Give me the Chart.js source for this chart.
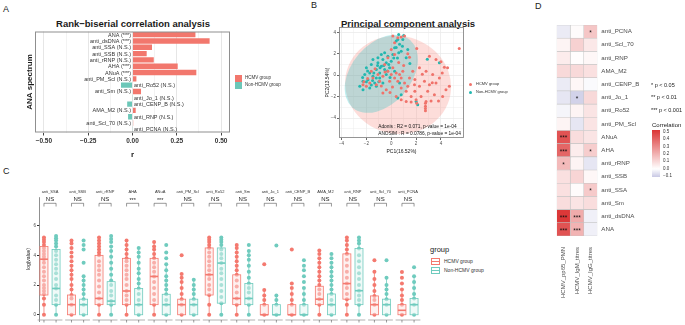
<!DOCTYPE html>
<html>
<head>
<meta charset="utf-8">
<script src="https://cdn.jsdelivr.net/npm/chart.js@4.4.1/dist/chart.umd.min.js"></script>
<style>
body { margin: 0; background: #fff; width: 685px; height: 325px; position: relative; overflow: hidden; font-family: "Liberation Sans", Arial, sans-serif; }
canvas { position: absolute; }
.t { position: absolute; white-space: nowrap; color: #1a1a1a; line-height: 1; }
.sq { position: absolute; }
</style>
</head>
<body>
<div class="t" style="left:3px;top:5px;font-size:9px">A</div>
<div class="t" style="left:311px;top:1px;font-size:9px">B</div>
<div class="t" style="left:3px;top:167px;font-size:9px">C</div>
<div class="t" style="left:535px;top:2px;font-size:9px">D</div>

<div class="t" style="left:133px;top:19px;font-size:9.5px;font-weight:bold;transform:translateX(-50%)">Rank−biserial correlation analysis</div>
<div class="t" style="left:341px;top:19px;font-size:9.5px;font-weight:bold">Principal component analysis</div>

<canvas id="rb" width="232" height="160" style="left:0;top:0"></canvas>
<canvas id="pca" width="150" height="135" style="left:318px;top:20px"></canvas>
<canvas id="box" width="428" height="147" style="left:0;top:178px"></canvas>
<canvas id="heat" width="112" height="315" style="left:540px;top:10px"></canvas>

<!-- legend A -->
<div class="sq" style="left:235px;top:75px;width:7px;height:6.5px;background:#F2776D"></div>
<div class="sq" style="left:235px;top:82px;width:7px;height:6.5px;background:#6CC7B8"></div>
<div class="t" style="left:245px;top:76px;font-size:4.5px;color:#333">HCMV group</div>
<div class="t" style="left:245px;top:83px;font-size:4.5px;color:#333">Non-HCMV group</div>

<!-- legend B -->
<div class="sq" style="left:469px;top:82.5px;width:3px;height:3px;border-radius:50%;background:#F0736B"></div>
<div class="sq" style="left:469px;top:90.5px;width:3px;height:3px;border-radius:50%;background:#22B8B0"></div>
<div class="t" style="left:476px;top:82px;font-size:4px;color:#333">HCMV group</div>
<div class="t" style="left:476px;top:90px;font-size:4px;color:#333">Non-HCMV group</div>

<!-- legend C -->
<div class="t" style="left:430px;top:246px;font-size:7.5px">group</div>
<div class="sq" style="left:431px;top:258px;width:7px;height:5px;border:0.8px solid #F4796F"></div>
<div class="sq" style="left:431px;top:260.5px;width:8.6px;height:1px;background:#F4796F"></div>
<div class="sq" style="left:431px;top:267px;width:7px;height:5px;border:0.8px solid #6FCBBE"></div>
<div class="sq" style="left:431px;top:269.5px;width:8.6px;height:1px;background:#6FCBBE"></div>
<div class="t" style="left:444px;top:258.5px;font-size:5px;color:#333">HCMV group</div>
<div class="t" style="left:444px;top:267.5px;font-size:5px;color:#333">Non-HCMV group</div>

<!-- legend D -->
<div class="t" style="left:651px;top:83px;font-size:5.5px">* p &lt; 0.05</div>
<div class="t" style="left:651px;top:95px;font-size:5.5px">** p &lt; 0.01</div>
<div class="t" style="left:651px;top:108px;font-size:5.5px">*** p &lt; 0.001</div>
<div class="t" style="left:652px;top:122px;font-size:6px">Correlation</div>
<div id="cbar" class="sq" style="left:652px;top:130px;width:8px;height:47px"></div>
<div id="cbarTicks"></div>

<script>
Chart.defaults.font.family = "'Liberation Sans', Arial, sans-serif";
Chart.defaults.color = "#4d4d4d";

const RED = "#F2776D";
const TEAL = "#6CC7B8";

// ---- A: rank-biserial correlation
const rbCategories = ["ANA", "anti_dsDNA", "anti_SSA", "anti_SSB", "anti_rRNP", "AHA", "ANuA", "anti_PM_Scl",
    "anti_Ro52", "anti_Sm", "anti_Jo_1", "anti_CENP_B", "AMA_M2", "anti_RNP", "anti_Scl_70", "anti_PCNA"];
const rbValues = [0.355, 0.435, 0.11, 0.08, 0.12, 0.255, 0.36, 0.022,
    -0.065, 0.048, -0.002, -0.03, 0.018, -0.025, 0.004, -0.002];
const rbSig = ["***", "***", "N.S.", "N.S.", "N.S.", "***", "***", "N.S.",
    "N.S.", "N.S.", "N.S.", "N.S.", "N.S.", "N.S.", "N.S.", "N.S."];
const rbMajorTicks = [-0.5, -0.25, 0, 0.25, 0.5];
const rbMinorTicks = [-0.375, -0.125, 0.125, 0.375];

// ---- B: PCA
const hcmvPC1 = [5.47, 4.0, 4.27, 4.53, 3.6, 3.07, 2.05, 1.47, 1.33, 1.73, 2.27, 2.8, 3.33, 3.87, 3.6, 3.07, 2.67, 2.27, 1.87, 1.47,
    1.07, 0.8, 1.2, 1.6, 2.0, 2.4, 2.8, 2.75, 2.93, 3.47, 4.13, 4.4, 4.67, 0.13, 0.4, 0.67, 0.27, -0.13, 0.53, 0.8,
    0, -0.27, 0.93, -1.47, -1.73, -2.0, -2.27, -1.2, -0.93, -0.67, -1.07, -1.6, -0.53, -0.27, 0, 0.27, 0.13, 0.8, 1.07, 0.53,
    0.27, -0.4, -0.67, 0.4, 0.8, 1.2, 1.6, 2.05, 1.33, 2.75, 2.75, 2.75, 3.2, 3.8, 1.9, -1.9, -2.2, -1.3, -0.8, 0.1,
    1.0, 1.9, 2.5, 3.3, 4.1, -0.5, 0.6, -0.1];
const hcmvPC2 = [2.5, 1.25, 0.75, 0.69, 1.47, 1.78, 2.5, 1.69, 2.0, 0.38, 0.69, 0.38, 0.06, -0.25, -0.72, -0.88, -0.56, -1.03, -0.88, -0.25,
    -0.72, -1.19, -1.5, -1.97, -2.28, -1.97, -2.44, -2.9, -1.5, -1.81, -1.97, -1.34, -1.03, 0.69, 0.22, 0.06, -0.25, -0.56, -0.56, -0.25,
    0.06, 0.38, 0.38, -0.25, -0.72, -1.03, -0.88, -0.88, -0.56, -0.09, 0.06, 0.38, 1.0, 1.63, 2.4, 3.03, 3.66, 3.56, 3.66, 3.5,
    1.94, -1.34, -1.66, -1.97, -2.28, -2.44, -2.5, -2.6, -1.03, -2.6, -3.1, -3.3, -2.4, -2.4, -1.5, -0.3, -0.6, 0.6, -1.0, -1.1,
    0.9, -0.4, 0.1, -0.7, 0.2, 0.3, 1.2, -1.6];
const nonPC1 = [-2.53, -2.27, -2.13, -2.0, -1.87, -1.73, -1.6, -1.47, -1.33, -1.2, -1.07, -0.93, -0.8, -0.67, -0.53, -0.4, -0.27, -0.13, 0, 0.13,
    0.27, 0.4, 0.53, 0.67, 0.8, 0.93, 1.2, 1.33, 0.67, 0.8, 0.53, 2.0, 2.13, 3.87, -1.2, -1.73, -2.27, -0.93, -0.67, -0.4,
    -1.47, -1.07, -0.8, -0.53, -1.2, -2.0, -1.6, 0.27, -1.9, -1.4, -0.9, -0.2, 0.5, 0.9, 0.6, -1.0, -0.6, -2.3, -1.1, -0.3,
    0.2, 0.4, 1.0, 0.6, -1.5, -0.1, 1.5, 2.9];
const nonPC2 = [-1.03, -0.56, 0.06, 0.69, -0.41, 0.22, 1.0, -0.09, -0.72, 0.53, 1.16, 0.22, 0.84, 1.47, 0.53, 1.16, 1.78, 0.69, 1.31, 1.94,
    2.56, 3.19, 3.34, 2.88, 2.25, 3.34, 1.63, 2.4, -0.72, -1.81, -2.13, -2.44, -2.75, 1.16, -1.03, -1.19, -1.34, -0.25, -0.72, 0.06,
    1.47, 1.63, 1.94, 2.09, -0.25, -0.6, -0.9, 0.38, 0.4, 0.2, 0.7, 1.0, 1.6, 2.7, 2.1, -0.6, 0.9, -0.2, 0.9, 0.4,
    1.6, 2.6, 3.7, 3.8, -0.5, -0.2, 1.1, 1.5];
// ellipse: centre x, centre y, first semi-axis (dx, dy), second semi-axis (dx, dy)
const hcmvEllipse = [0.55, -0.9, 4.25, -0.5, 0.3, 4.55];
const nonEllipse = [-0.8, 0.13, 2.33, 3.13, 1.8, -1.85];
const pcaNotes = ["Adonis : R2 = 0.071, p-value = 1e-04", "ANOSIM : R = 0.0786, p-value = 1e-04"];
const pcaMajorTicks = [-4, -2, 0, 2, 4];
const pcaXMinor = [-3, -1, 1, 3, 5];
const pcaYMinor = [-5, -3, -1, 1, 3];

// ---- C: box plots, stats = [lower whisker, q1, median, q3, upper whisker]
const boxFacets = ["anti_SSA", "anti_SSB", "anti_rRNP", "AHA", "ANuA", "anti_PM_Scl", "anti_Ro52",
    "anti_Sm", "anti_Jo_1", "anti_CENP_B", "AMA_M2", "anti_RNP", "anti_Scl_70", "anti_PCNA"];
const boxSig = ["NS", "NS", "NS", "***", "***", "NS", "NS", "NS", "NS", "NS", "NS", "NS", "NS", "NS"];
const hcmvStats = [[0, 1.33, 3.74, 4.6, 5.2], [0, 0, 0.68, 1.33, 3.3], [0, 0.68, 1.1, 4.0, 5.2], [0, 0.68, 1.6, 3.8, 5.0],
    [0, 0.68, 2.58, 3.8, 4.9], [0, 0, 0.68, 1.05, 2.6], [0, 1.33, 2.7, 4.5, 5.2], [0, 0.68, 1.1, 2.69, 4.7],
    [0, 0, 0, 0.68, 1.66], [0, 0, 0, 0.68, 1.66], [0, 0.68, 1.05, 1.92, 3.8], [0, 1.05, 2.1, 4.1, 5.2],
    [0, 0, 0.68, 1.27, 2.9], [0, 0, 0.3, 0.68, 1.7]];
const nonStats = [[0, 0.68, 1.77, 4.4, 5.3], [0, 0, 0.68, 1.05, 2.6], [0, 0.68, 0.92, 2.23, 4.5], [0, 0, 0.68, 1.77, 4.5],
    [0, 0, 0.68, 1.38, 3.4], [0, 0, 0.68, 1.05, 2.36], [0, 0.78, 3.48, 4.5, 5.2], [0, 0.68, 1.1, 2.1, 4.2],
    [0, 0, 0, 0.68, 1.3], [0, 0, 0, 0.68, 1.66], [0, 0, 0.68, 1.4, 3.4], [0, 0.68, 1.62, 4.46, 5.2],
    [0, 0, 0.68, 1.05, 2.5], [0, 0, 0.68, 1.1, 2.5]];
const hcmvDots = [
    [0, 0.68, 1.1, 1.4, 1.6, 1.8, 2.0, 2.3, 2.6, 2.9, 3.2, 3.5, 3.74, 3.9, 4.1, 4.3, 4.5, 4.7, 4.9, 5.05, 5.2],
    [0, 0.68, 1.1, 1.33, 1.7, 2.0, 2.4, 2.7, 3.0, 3.3, 3.6, 3.9, 4.2, 4.5, 4.8, 5.0],
    [0, 0.68, 1.1, 1.5, 1.9, 2.3, 2.7, 3.0, 3.3, 3.6, 4.0, 4.2, 4.4, 4.6, 4.8, 5.0, 5.2],
    [0, 0.68, 1.0, 1.3, 1.6, 2.0, 2.4, 2.7, 3.0, 3.3, 3.6, 3.8, 4.1, 4.4, 4.7, 5.0],
    [0, 0.68, 1.0, 1.4, 1.8, 2.2, 2.58, 2.9, 3.2, 3.5, 3.8, 4.1, 4.4, 4.6, 4.9],
    [0, 0.68, 1.05, 1.4, 1.8, 2.2, 2.5, 2.75, 4.0],
    [0, 0.68, 1.33, 1.7, 2.0, 2.4, 2.7, 3.0, 3.3, 3.6, 3.9, 4.2, 4.5, 4.7, 4.9, 5.05, 5.2],
    [0, 0.68, 1.1, 1.5, 1.9, 2.3, 2.69, 3.0, 3.3, 3.6, 3.9, 4.2, 4.5, 4.7],
    [0, 0.68, 1.0, 1.3, 1.66, 3.4],
    [0, 0.68, 1.0, 1.4, 1.8, 2.1, 4.4],
    [0, 0.68, 1.05, 1.4, 1.7, 2.0, 2.3, 2.6, 2.9, 3.2, 3.5, 3.8, 4.1, 4.33],
    [0, 0.68, 1.05, 1.4, 1.8, 2.1, 2.5, 2.9, 3.3, 3.7, 4.1, 4.4, 4.7, 5.0, 5.2],
    [0, 0.68, 1.0, 1.27, 1.6, 2.0, 2.4, 2.9, 3.67],
    [0, 0.68, 1.0, 1.3, 1.7, 2.1, 2.5, 2.88]];
const nonDots = [
    [0, 0.68, 1.0, 1.3, 1.77, 2.0, 2.4, 2.8, 3.1, 3.4, 3.7, 4.0, 4.3, 4.6, 4.8, 5.0, 5.15, 5.3],
    [0, 0.68, 1.05, 1.4, 1.7, 2.0, 2.3, 2.6, 3.5, 4.4, 4.7, 5.0],
    [0, 0.68, 0.92, 1.3, 1.6, 2.0, 2.3, 2.7, 3.1, 3.5, 3.9, 4.3, 4.6, 4.9, 5.1, 5.3],
    [0, 0.68, 1.0, 1.4, 1.77, 2.1, 2.4, 2.8, 3.1, 3.5, 3.9, 4.2, 4.5],
    [0, 0.68, 1.0, 1.38, 1.7, 2.0, 2.3, 2.6, 3.0, 3.4, 3.8, 4.2, 4.7],
    [0, 0.68, 1.05, 1.4, 1.7, 2.0, 2.36],
    [0, 0.78, 1.2, 1.6, 2.0, 2.4, 2.8, 3.1, 3.48, 3.8, 4.1, 4.4, 4.7, 4.9, 5.05, 5.2],
    [0, 0.68, 1.1, 1.5, 1.8, 2.1, 2.5, 2.9, 3.3, 3.7, 4.0, 4.3, 4.7],
    [0, 0.68, 1.0, 1.3, 4.67],
    [0, 0.68, 1.0, 1.4, 1.8, 2.2, 2.6, 3.0, 3.3, 3.67],
    [0, 0.68, 1.0, 1.4, 1.7, 2.0, 2.3, 2.6, 2.9, 3.2, 3.5, 3.8, 4.1],
    [0, 0.68, 1.0, 1.3, 1.62, 2.0, 2.4, 2.8, 3.2, 3.6, 4.0, 4.46, 4.8, 5.0, 5.2],
    [0, 0.68, 1.05, 1.4, 1.7, 2.0, 2.5, 3.67],
    [0, 0.68, 1.1, 1.4, 1.8, 2.2, 2.6, 3.2]];
const boxYTicks = [0, 2, 4, 6];

// ---- D: correlation heatmap
const hmRows = ["anti_PCNA", "anti_Scl_70", "anti_RNP", "AMA_M2", "anti_CENP_B", "anti_Jo_1", "anti_Ro52", "anti_PM_Scl",
    "ANuA", "AHA", "anti_rRNP", "anti_SSB", "anti_SSA", "anti_Sm", "anti_dsDNA", "ANA"];
const hmCols = ["HCMV_pp65_PMN", "HCMV_IgM_titres", "HCMV_IgG_titres"];
const corPp65 = [-0.04, 0.03, 0.05, 0.1, -0.04, -0.05, -0.02, 0.03, 0.45, 0.4, 0.18, 0.08, 0.08, 0.09, 0.52, 0.45];
const corIgM = [0.01, 0.12, 0.005, 0.1, 0.02, -0.09, 0.03, -0.05, 0.09, 0.05, 0.03, 0.11, 0.01, 0.07, 0.22, 0.2];
const corIgG = [0.15, 0.06, 0.02, 0.08, -0.01, 0.1, 0.07, 0.07, 0.07, 0.13, -0.05, 0.02, 0.14, 0.09, -0.03, -0.03];
const sigPp65 = ["", "", "", "", "", "", "", "", "***", "***", "*", "", "", "", "***", "***"];
const sigIgM = ["", "", "", "", "", "*", "", "", "", "", "", "", "", "", "***", "***"];
const sigIgG = ["*", "", "", "", "", "", "", "", "", "*", "", "", "*", "", "", ""];
const corrTicks = [0.5, 0.4, 0.3, 0.2, 0.1, 0.0, -0.1];

// ---------- helpers
const minus = (s) => String(s).replace("-", "−");

const panelBorder = {
    id: "panelBorder",
    afterDraw(chart, args, opts) {
        const a = chart.chartArea;
        const ctx = chart.ctx;
        ctx.save();
        ctx.strokeStyle = opts.color;
        ctx.lineWidth = opts.width;
        ctx.strokeRect(a.left + 0.5, a.top + 0.5, a.right - a.left - 1, a.bottom - a.top - 1);
        ctx.restore();
    },
};

function corrColor(v) {
    if (v >= 0) {
        const t = Math.min(v / 0.55, 1);
        return `rgb(${Math.round(255 - 37 * t)},${Math.round(255 - 210 * t)},${Math.round(255 - 210 * t)})`;
    }
    const t = Math.min(-v / 0.11, 1);
    return `rgb(${Math.round(255 - 55 * t)},${Math.round(255 - 55 * t)},${Math.round(255 - 27 * t)})`;
}

// ---------- A
const barLabels = {
    id: "barLabels",
    afterDatasetsDraw(chart) {
        const ctx = chart.ctx;
        const x0 = chart.scales.x.getPixelForValue(0);
        ctx.save();
        ctx.font = "5.5px 'Liberation Sans', Arial";
        ctx.fillStyle = "#333";
        ctx.textBaseline = "middle";
        chart.getDatasetMeta(0).data.forEach((bar, i) => {
            const txt = `${rbCategories[i]} (${rbSig[i]})`;
            if (rbValues[i] >= 0) {
                ctx.textAlign = "right";
                ctx.fillText(txt, x0 - 1.5, bar.y + 0.5);
            } else {
                ctx.textAlign = "left";
                ctx.fillText(txt, x0 + 1.5, bar.y + 0.5);
            }
        });
        ctx.restore();
    },
};

new Chart(document.getElementById("rb"), {
    type: "bar",
    data: {
        labels: rbCategories,
        datasets: [{
            data: rbValues,
            backgroundColor: rbValues.map((v) => (v >= 0 ? RED : TEAL)),
            barPercentage: 0.86,
            categoryPercentage: 1,
        }],
    },
    options: {
        indexAxis: "y",
        responsive: false,
        animation: false,
        layout: { padding: { left: 24, top: 31.5, right: 2, bottom: 0 } },
        plugins: {
            legend: { display: false },
            tooltip: { enabled: false },
            panelBorder: { color: "#8f8f8f", width: 1 },
        },
        scales: {
            x: {
                type: "linear",
                min: -0.55,
                max: 0.55,
                afterBuildTicks: (s) => {
                    s.ticks = [...rbMajorTicks, ...rbMinorTicks].sort((a, b) => a - b).map((v) => ({ value: v }));
                },
                afterFit: (s) => { s.height = 27.5; },
                ticks: {
                    callback: (v) => (rbMajorTicks.includes(v) ? minus(v.toFixed(2)) : ""),
                    font: { size: 6.5, weight: "bold" },
                    color: "#333",
                    padding: 2,
                    maxRotation: 0,
                },
                grid: {
                    color: (c) => (c.tick && rbMajorTicks.includes(c.tick.value) ? "#E6E6E6" : "#F3F3F3"),
                    tickColor: (c) => (c.tick && rbMajorTicks.includes(c.tick.value) ? "#444" : "rgba(0,0,0,0)"),
                    tickLength: 3,
                },
                border: { display: false },
                title: { display: true, text: "r", font: { size: 8, weight: "bold" }, color: "#1a1a1a", padding: { top: 1, bottom: 0 } },
            },
            y: {
                ticks: { display: false },
                grid: { display: false },
                border: { display: false },
                afterFit: (s) => { s.width = 11; },
                title: { display: true, text: "ANA spectrum", font: { size: 8, weight: "bold" }, color: "#1a1a1a", padding: 1 },
            },
        },
    },
    plugins: [barLabels, panelBorder],
});

// ---------- B
const ellipsePlugin = {
    id: "ellipses",
    beforeDatasetsDraw(chart, args, opts) {
        const { ctx, chartArea: a, scales: { x, y } } = chart;
        ctx.save();
        ctx.beginPath();
        ctx.rect(a.left, a.top, a.right - a.left, a.bottom - a.top);
        ctx.clip();
        opts.items.forEach(([e, fill]) => {
            const [cx, cy, ax, ay, bx, by] = e;
            const px = x.getPixelForValue(cx), py = y.getPixelForValue(cy);
            const ux = x.getPixelForValue(cx + ax) - px, uy = y.getPixelForValue(cy + ay) - py;
            const vx = x.getPixelForValue(cx + bx) - px, vy = y.getPixelForValue(cy + by) - py;
            ctx.save();
            ctx.transform(ux, uy, vx, vy, px, py);
            ctx.beginPath();
            ctx.arc(0, 0, 1, 0, Math.PI * 2);
            ctx.restore();
            ctx.fillStyle = fill;
            ctx.fill();
        });
        ctx.restore();
    },
    afterDatasetsDraw(chart, args, opts) {
        const { ctx, scales: { x, y } } = chart;
        ctx.save();
        ctx.font = "4.8px 'Liberation Sans', Arial";
        ctx.fillStyle = "#111";
        ctx.textBaseline = "middle";
        opts.notes.forEach(([txt, nx, ny]) => ctx.fillText(txt, x.getPixelForValue(nx), y.getPixelForValue(ny)));
        ctx.restore();
    },
};

const pcaAxis = (minor, extra) => Object.assign({
    type: "linear",
    afterBuildTicks: (s) => {
        s.ticks = [...pcaMajorTicks, ...minor].sort((a, b) => a - b).map((v) => ({ value: v }));
    },
    ticks: {
        callback: (v) => (pcaMajorTicks.includes(v) ? minus(v) : ""),
        font: { size: 4.5 },
        color: "#4d4d4d",
        padding: 1,
        maxRotation: 0,
    },
    grid: {
        color: "#EBEBEB",
        lineWidth: (c) => (c.tick && pcaMajorTicks.includes(c.tick.value) ? 0.8 : 0.45),
        tickColor: (c) => (c.tick && pcaMajorTicks.includes(c.tick.value) ? "#444" : "rgba(0,0,0,0)"),
        tickLength: 2,
    },
    border: { display: false },
}, extra);

new Chart(document.getElementById("pca"), {
    type: "scatter",
    data: {
        datasets: [
            {
                label: "HCMV group",
                data: hcmvPC1.map((v, i) => ({ x: v, y: hcmvPC2[i] })),
                backgroundColor: "#F0736B",
                pointRadius: 1.5,
                borderWidth: 0,
            },
            {
                label: "Non-HCMV group",
                data: nonPC1.map((v, i) => ({ x: v, y: nonPC2[i] })),
                backgroundColor: "#22B8B0",
                pointRadius: 1.5,
                borderWidth: 0,
            },
        ],
    },
    options: {
        responsive: false,
        animation: false,
        layout: { padding: { left: 6, top: 7, right: 3, bottom: 0 } },
        plugins: {
            legend: { display: false },
            tooltip: { enabled: false },
            panelBorder: { color: "#8a8a8a", width: 0.9 },
            ellipses: {
                items: [[hcmvEllipse, "rgba(248,118,109,0.25)"], [nonEllipse, "rgba(0,191,196,0.25)"]],
                notes: [[pcaNotes[0], -1.05, -4.78], [pcaNotes[1], -1.05, -5.42]],
            },
        },
        scales: {
            x: pcaAxis(pcaXMinor, {
                min: -4.2, max: 5.85,
                afterFit: (s) => { s.height = 17; },
                title: { display: true, text: "PC1(16.52%)", font: { size: 5 }, color: "#1a1a1a", padding: { top: 1, bottom: 0 } },
            }),
            y: pcaAxis(pcaYMinor, {
                min: -5.85, max: 4.5,
                afterFit: (s) => { s.width = 15; },
                title: { display: true, text: "PC2(13.54%)", font: { size: 5 }, color: "#1a1a1a", padding: 1 },
            }),
        },
    },
    plugins: [ellipsePlugin, panelBorder],
});

// ---------- C
const BOX_RED = "#F4796F";
const BOX_TEAL = "#6FCBBE";
const BOX_OFF = 0.22;
const BOX_HALF = 0.145;

const facetPlugin = {
    id: "facets",
    afterDatasetsDraw(chart) {
        const { ctx, chartArea: a, scales: { x, y } } = chart;
        ctx.save();
        boxFacets.forEach((name, i) => {
            [[hcmvStats[i], -BOX_OFF, BOX_RED, "rgba(244,121,111,0.10)"], [nonStats[i], BOX_OFF, BOX_TEAL, "rgba(111,203,190,0.10)"]]
                .forEach(([s, off, col, tint]) => {
                    const cx = x.getPixelForValue(i + off);
                    const hw = x.getPixelForValue(i + off + BOX_HALF) - cx;
                    const [lo, q1, md, q3, hi] = s.map((v) => y.getPixelForValue(v));
                    ctx.strokeStyle = col;
                    ctx.lineWidth = 0.8;
                    ctx.beginPath();
                    ctx.moveTo(cx, hi); ctx.lineTo(cx, q3);
                    ctx.moveTo(cx, q1); ctx.lineTo(cx, lo);
                    ctx.stroke();
                    ctx.fillStyle = "rgba(255,255,255,0.45)";
                    ctx.fillRect(cx - hw, q3, 2 * hw, q1 - q3);
                    ctx.fillStyle = tint;
                    ctx.fillRect(cx - hw, q3, 2 * hw, q1 - q3);
                    ctx.strokeRect(cx - hw, q3, 2 * hw, q1 - q3);
                    ctx.lineWidth = 1.6;
                    ctx.beginPath();
                    ctx.moveTo(cx - hw, md); ctx.lineTo(cx + hw, md);
                    ctx.stroke();
                });
            const c = x.getPixelForValue(i);
            const xl = x.getPixelForValue(i - BOX_OFF), xr = x.getPixelForValue(i + BOX_OFF);
            // facet x-axis segment
            ctx.strokeStyle = "#a0a0a0";
            ctx.lineWidth = 0.8;
            ctx.beginPath();
            ctx.moveTo(x.getPixelForValue(i - 0.45), a.bottom - 1);
            ctx.lineTo(x.getPixelForValue(i + 0.45), a.bottom - 1);
            ctx.stroke();
            ctx.strokeStyle = "#555";
            ctx.lineWidth = 0.6;
            ctx.beginPath();
            ctx.moveTo(xl, a.bottom - 1); ctx.lineTo(xl, a.bottom + 1.5);
            ctx.moveTo(xr, a.bottom - 1); ctx.lineTo(xr, a.bottom + 1.5);
            ctx.stroke();
            // strip text
            ctx.fillStyle = "#333";
            ctx.textAlign = "center";
            ctx.textBaseline = "middle";
            ctx.font = "4px 'Liberation Sans', Arial";
            ctx.fillText(name, c, a.top - 5);
            // significance bracket
            ctx.font = boxSig[i] === "NS" ? "6px 'Liberation Sans', Arial" : "5.5px 'Liberation Sans', Arial";
            ctx.fillStyle = "#222";
            ctx.fillText(boxSig[i], c, a.top + (boxSig[i] === "NS" ? 2.2 : 3));
            ctx.strokeStyle = "#333";
            ctx.lineWidth = 0.5;
            ctx.beginPath();
            ctx.moveTo(xl, a.top + 9.5); ctx.lineTo(xl, a.top + 6.3);
            ctx.lineTo(xr, a.top + 6.3); ctx.lineTo(xr, a.top + 9.5);
            ctx.stroke();
        });
        ctx.restore();
    },
};

new Chart(document.getElementById("box"), {
    type: "scatter",
    data: {
        datasets: [
            {
                label: "HCMV group",
                data: hcmvDots.flatMap((vals, i) => vals.map((v) => ({ x: i - BOX_OFF, y: v }))),
                backgroundColor: BOX_RED,
                pointRadius: 2,
                borderWidth: 0,
            },
            {
                label: "Non-HCMV group",
                data: nonDots.flatMap((vals, i) => vals.map((v) => ({ x: i + BOX_OFF, y: v }))),
                backgroundColor: BOX_TEAL,
                pointRadius: 2,
                borderWidth: 0,
            },
        ],
    },
    options: {
        responsive: false,
        animation: false,
        layout: { padding: { left: 25, top: 19, right: 6.5, bottom: 2 } },
        plugins: { legend: { display: false }, tooltip: { enabled: false } },
        scales: {
            x: { type: "linear", min: -0.4, max: 13.49, display: false },
            y: {
                type: "linear",
                min: -0.42,
                max: 7.93,
                afterBuildTicks: (s) => { s.ticks = boxYTicks.map((v) => ({ value: v })); },
                afterFit: (s) => { s.width = 14; },
                ticks: { font: { size: 4.5 }, color: "#4d4d4d", padding: 1 },
                grid: { drawOnChartArea: false, tickLength: 2, tickColor: "#333" },
                border: { display: true, color: "#444", width: 0.6 },
                title: { display: true, text: "log(value)", font: { size: 5 }, color: "#1a1a1a", padding: 1 },
            },
        },
    },
    plugins: [facetPlugin],
});

// ---------- D
const hmValues = [corPp65, corIgM, corIgG];
const hmSig = [sigPp65, sigIgM, sigIgG];

const starPlugin = {
    id: "stars",
    afterDatasetsDraw(chart) {
        const ctx = chart.ctx;
        ctx.save();
        ctx.font = "6.5px 'Liberation Sans', Arial";
        ctx.fillStyle = "#111";
        ctx.textAlign = "center";
        ctx.textBaseline = "middle";
        hmSig.forEach((col, j) => {
            chart.getDatasetMeta(j).data.forEach((cell, i) => {
                if (col[i]) ctx.fillText(col[i], (cell.x + cell.base) / 2, cell.y + 1.5);
            });
        });
        ctx.restore();
    },
};

new Chart(document.getElementById("heat"), {
    type: "bar",
    data: {
        labels: hmRows,
        datasets: hmCols.map((c, j) => ({
            label: c,
            data: hmRows.map(() => 1),
            backgroundColor: hmValues[j].map(corrColor),
            borderColor: "#c4c4c4",
            borderWidth: 0.6,
            borderSkipped: false,
            barPercentage: 1,
            categoryPercentage: 1,
        })),
    },
    options: {
        indexAxis: "y",
        responsive: false,
        animation: false,
        layout: { padding: { left: 16.7, top: 15, right: 0, bottom: 0 } },
        plugins: { legend: { display: false }, tooltip: { enabled: false } },
        scales: {
            x: {
                type: "linear",
                stacked: true,
                min: 0,
                max: 3,
                afterBuildTicks: (s) => { s.ticks = hmCols.map((c, j) => ({ value: j + 0.5 })); },
                afterFit: (s) => { s.height = 89; },
                ticks: {
                    callback: (v, i) => hmCols[i],
                    autoSkip: false,
                    minRotation: 90,
                    maxRotation: 90,
                    font: { size: 6 },
                    color: "#4d4d4d",
                    padding: 3,
                },
                grid: { display: false },
                border: { display: false },
            },
            y: {
                stacked: true,
                position: "right",
                afterFit: (s) => { s.width = 54.7; },
                ticks: { font: { size: 6.2 }, color: "#4d4d4d", padding: 4, autoSkip: false },
                grid: { display: false, drawTicks: false },
                border: { display: false },
            },
        },
    },
    plugins: [starPlugin],
});

// colour bar for D
(() => {
    const top = 0.53, bottom = -0.11;
    const zeroPos = ((top - 0) / (top - bottom)) * 100;
    document.getElementById("cbar").style.background =
        `linear-gradient(to bottom, ${corrColor(top)} 0%, #ffffff ${zeroPos}%, ${corrColor(bottom)} 100%)`;
    const holder = document.getElementById("cbarTicks");
    corrTicks.forEach((v) => {
        const d = document.createElement("div");
        d.className = "t";
        d.style.cssText = `left:663px;top:${130 + ((top - v) / (top - bottom)) * 47 - 2.3}px;font-size:4.5px;color:#333`;
        d.textContent = minus(v.toFixed(1));
        holder.appendChild(d);
    });
})();
</script>
</body>
</html>
